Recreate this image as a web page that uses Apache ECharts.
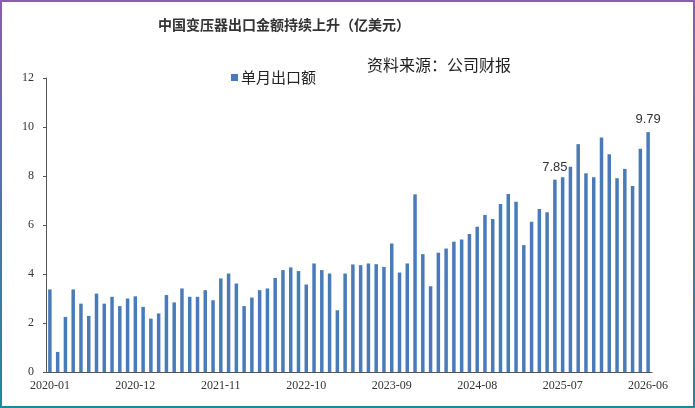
<!DOCTYPE html>
<html>
<head>
<meta charset="utf-8">
<script src="https://cdn.jsdelivr.net/npm/echarts@6/dist/echarts.min.js"></script>
<style>
  html, body { margin: 0; padding: 0; background: #fff; }
  #wrap { position: relative; width: 695px; height: 408px; }
  #chart { position: absolute; left: 0; top: 0; width: 695px; height: 408px; }
  #frame { position: absolute; left: 0; top: 0; width: 695px; height: 408px; box-sizing: border-box;
           border: 2px solid; border-image: linear-gradient(to bottom, #8a5cb2, #1a8a9c) 1; pointer-events: none; }
</style>
</head>
<body>
<div id="wrap"><div id="chart"></div><div id="frame"></div></div>
<script>
const titleText = '中国变压器出口金额持续上升（亿美元）';
const sourceText = '资料来源：公司财报';
const seriesName = '单月出口额';
const startYear = 2020;
const months = 78;
const monthlyExport = [
  3.37, 0.82, 2.25, 3.37, 2.79, 2.29, 3.20, 2.79, 3.07, 2.69, 3.00, 3.09,
  2.66, 2.18, 2.39, 3.14, 2.84, 3.41, 3.07, 3.07, 3.34, 2.93, 3.82, 4.02,
  3.61, 2.69, 3.04, 3.34, 3.41, 3.84, 4.16, 4.27, 4.12, 3.57, 4.43, 4.16,
  4.02, 2.52, 4.02, 4.39, 4.36, 4.43, 4.40, 4.29, 5.25, 4.06, 4.43, 7.25,
  4.81, 3.50, 4.87, 5.04, 5.32, 5.41, 5.63, 5.93, 6.41, 6.24, 6.86, 7.27,
  6.95, 5.18, 6.13, 6.65, 6.52, 7.85, 7.95, 8.38, 9.30, 8.11, 7.95, 9.57,
  8.89, 7.91, 8.29, 7.59, 9.11, 9.79
];
const labeledMonths = ['2025-06', '2026-06'];
const yTicks = { min: 0, max: 12, interval: 2 };

const categories = [];
for (let i = 0; i < months; i++) {
  const y = startYear + Math.floor(i / 12);
  const m = (i % 12) + 1;
  categories.push(y + '-' + (m < 10 ? '0' + m : m));
}

const seriesData = monthlyExport.map((v, i) => {
  if (labeledMonths.indexOf(categories[i]) >= 0) {
    return { value: v, label: { show: true, position: 'top', distance: 6,
      formatter: (p) => p.value.toFixed(2),
      fontFamily: 'Liberation Sans', fontSize: 13, color: '#333' } };
  }
  return v;
});

const chart = echarts.init(document.getElementById('chart'), null, { renderer: 'canvas' });
chart.setOption({
  animation: false,
  backgroundColor: '#fff',
  title: {
    text: titleText, left: 153, top: 13,
    textStyle: { fontFamily: 'Noto Sans CJK SC', fontSize: 14, fontWeight: 'bold', color: '#333' }
  },
  graphic: [{
    type: 'text', left: 367, top: 57,
    style: { text: sourceText, font: '16px "Noto Sans CJK SC"', fill: '#222' }
  }],
  legend: {
    data: [seriesName], left: 226, top: 65, icon: 'rect', itemWidth: 7, itemHeight: 7, itemGap: 4,
    textStyle: { fontFamily: 'Noto Sans CJK SC', fontSize: 15, color: '#222', padding: [0, 0, 0, -2] }
  },
  grid: { left: 46, right: 43, top: 78, bottom: 36, containLabel: false },
  xAxis: {
    type: 'category', data: categories, boundaryGap: true,
    axisLine: { show: true, lineStyle: { color: '#555', width: 1 } },
    axisTick: { show: true, interval: 10, alignWithLabel: true, inside: true, length: 3, lineStyle: { color: '#777' } },
    axisLabel: { interval: 10, margin: 8, fontFamily: 'Liberation Serif', fontSize: 12, color: '#333' }
  },
  yAxis: {
    type: 'value', min: yTicks.min, max: yTicks.max, interval: yTicks.interval,
    axisLine: { show: true, lineStyle: { color: '#555', width: 1 } },
    axisTick: { show: true, length: 3, lineStyle: { color: '#555' } },
    splitLine: { show: false },
    axisLabel: { margin: 12, fontFamily: 'Liberation Serif', fontSize: 12, color: '#333' }
  },
  series: [{
    name: seriesName, type: 'bar', data: seriesData,
    barWidth: 3.5,
    itemStyle: { color: '#4a7bb9' }
  }]
});
</script>
</body>
</html>
